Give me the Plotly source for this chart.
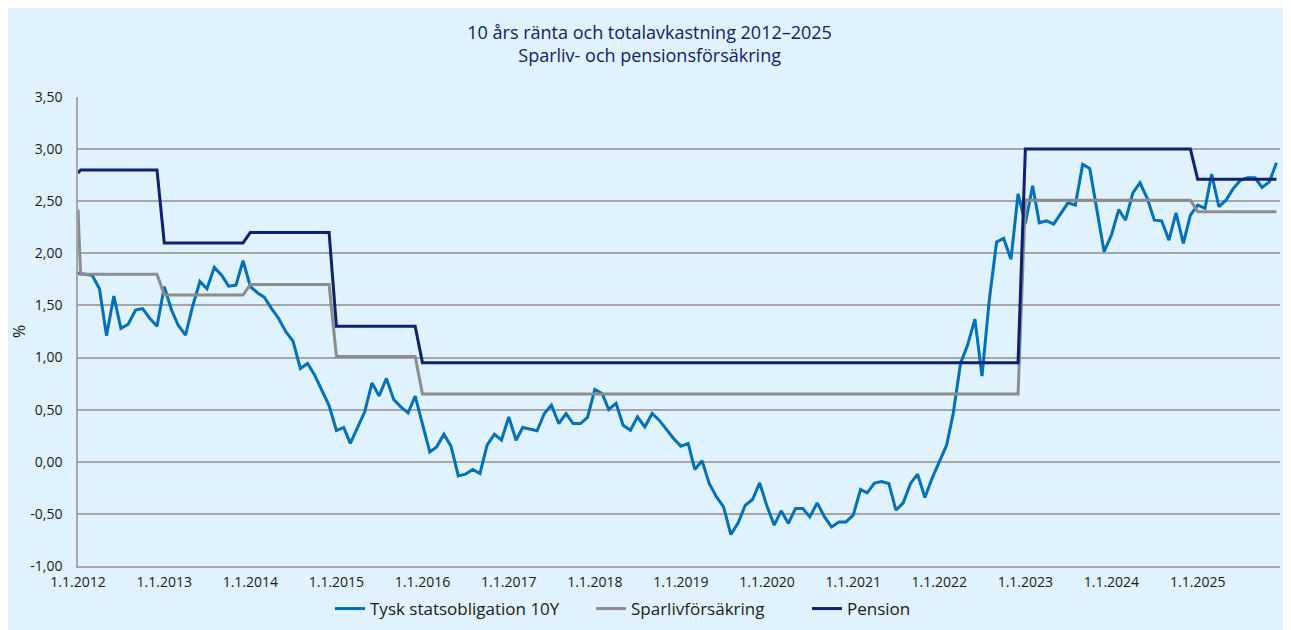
import pandas as pd
import plotly.graph_objects as go

# ---------------- data ----------------
bund_start = "2012-01-01"
bund_10y = [
    1.81, 1.80, 1.79, 1.66, 1.21, 1.59, 1.28, 1.32, 1.455, 1.47, 1.375, 1.30,
    1.68, 1.455, 1.31, 1.215, 1.49, 1.73, 1.66, 1.865, 1.79, 1.685, 1.695, 1.93,
    1.68, 1.62, 1.58, 1.47, 1.375, 1.245, 1.157, 0.895, 0.943, 0.83, 0.687, 0.54,
    0.30, 0.33, 0.176, 0.335, 0.479, 0.757, 0.632, 0.80, 0.598, 0.527, 0.47, 0.63,
    0.351, 0.095, 0.143, 0.265, 0.15, -0.135, -0.119, -0.074, -0.112, 0.159, 0.265, 0.207,
    0.431, 0.207, 0.329, 0.31, 0.297, 0.463, 0.543, 0.367, 0.463, 0.367, 0.367, 0.425,
    0.694, 0.655, 0.502, 0.56, 0.351, 0.303, 0.431, 0.335, 0.463, 0.399, 0.31, 0.224,
    0.15, 0.176, -0.074, 0.009, -0.208, -0.337, -0.433, -0.698, -0.586, -0.417, -0.362, -0.202,
    -0.426, -0.608, -0.471, -0.592, -0.448, -0.448, -0.529, -0.394, -0.529, -0.625, -0.577, -0.577,
    -0.512, -0.266, -0.298, -0.205, -0.19, -0.208, -0.465, -0.394, -0.208, -0.119, -0.343, -0.161,
    0.0, 0.159, 0.463, 0.943, 1.119, 1.369, 0.822, 1.551, 2.11, 2.143, 1.942, 2.57,
    2.287, 2.648, 2.293, 2.312, 2.28, 2.383, 2.485, 2.463, 2.853, 2.815, 2.415, 2.015,
    2.175, 2.42, 2.318, 2.581, 2.677, 2.527, 2.318, 2.312, 2.127, 2.389, 2.095, 2.367,
    2.463, 2.431, 2.76, 2.447, 2.51, 2.623, 2.70, 2.725, 2.725, 2.632, 2.686, 2.869,
]

sparliv_dates = [
    "2012-01-01", "2012-01-12", "2012-12-01", "2013-01-01", "2013-12-01", "2014-01-01",
    "2014-12-01", "2015-01-01", "2015-12-01", "2016-01-01", "2022-12-01", "2023-01-01",
    "2024-12-01", "2025-01-01", "2025-12-01",
]
sparliv_vals = [
    2.42, 1.80, 1.80, 1.60, 1.60, 1.70,
    1.70, 1.01, 1.01, 0.65, 0.65, 2.51,
    2.51, 2.40, 2.40,
]

pension_dates = [
    "2012-01-01", "2012-01-12", "2012-12-01", "2013-01-01", "2013-12-01", "2014-01-01",
    "2014-12-01", "2015-01-01", "2015-12-01", "2016-01-01", "2022-12-01", "2023-01-01",
    "2024-12-01", "2025-01-01", "2025-12-01",
]
pension_vals = [
    2.77, 2.80, 2.80, 2.10, 2.10, 2.20,
    2.20, 1.30, 1.30, 0.95, 0.95, 3.00,
    3.00, 2.71, 2.71,
]

series_names = ["Tysk statsobligation 10Y", "Sparlivförsäkring", "Pension"]

y_tickvals = [-1.0, -0.5, 0.0, 0.5, 1.0, 1.5, 2.0, 2.5, 3.0, 3.5]
y_ticktext = ["-1,00", "-0,50", "0,00", "0,50", "1,00", "1,50", "2,00", "2,50", "3,00", "3,50"]
x_tickvals = [f"{y}-01-01" for y in range(2012, 2026)]
x_ticktext = [f"1.1.{y}" for y in range(2012, 2026)]

title_lines = ["10 års ränta och totalavkastning 2012\u20132025", "Sparliv- och pensionsförsäkring"]

# ---------------- figure ----------------
bund_dates = pd.date_range(bund_start, periods=len(bund_10y), freq="MS")

BLUE = "#0071b9"
GREY = "#8c8c8c"
NAVY = "#0c2170"
BG = "#dff2fd"
FONT = "Open Sans"
TXT = "#1a1a1a"

W, H = 1291, 630
ML, MR, MT, MB = 70, 19, 89, 72
pw = W - ML - MR
ph = H - MT - MB

fig = go.Figure()
fig.add_trace(go.Scatter(x=bund_dates, y=bund_10y, mode="lines", name=series_names[0],
                         line=dict(color=BLUE, width=3), legend="legend"))
fig.add_trace(go.Scatter(x=pd.to_datetime(sparliv_dates), y=sparliv_vals, mode="lines",
                         name=series_names[1], line=dict(color=GREY, width=3), legend="legend2"))
fig.add_trace(go.Scatter(x=pd.to_datetime(pension_dates), y=pension_vals, mode="lines",
                         name=series_names[2], line=dict(color=NAVY, width=3), legend="legend3"))

leg_y = -(601 - (H - MB)) / ph


def leg(xpix):
    return dict(orientation="h", x=(xpix - ML) / pw, xanchor="left", y=leg_y, yanchor="middle",
                font=dict(family=FONT, size=17, color=TXT), bgcolor="rgba(0,0,0,0)",
                itemwidth=30)


fig.update_layout(
    width=W, height=H,
    margin=dict(l=ML, r=MR, t=MT, b=MB, pad=0, autoexpand=False),
    paper_bgcolor=BG, plot_bgcolor=BG,
    font=dict(family=FONT, size=14, color=TXT),
    title=dict(text="<br>".join(title_lines), x=0.497, xanchor="center",
               y=1 - 31 / H, yanchor="middle",
               font=dict(family=FONT, size=18, color=NAVY)),
    showlegend=True,
    legend=leg(322),
    legend2=leg(583),
    legend3=leg(799),
    xaxis=dict(type="date", range=["2012-01-01", "2025-12-16"], automargin=False,
               tickmode="array", tickvals=x_tickvals, ticktext=x_ticktext,
               showgrid=False, showline=True, linecolor="#a6a6a6", linewidth=1.5,
               ticks="", ticklabelstandoff=2,
               tickfont=dict(family=FONT, size=14, color=TXT),
               zeroline=False),
    yaxis=dict(range=[-1.0, 3.5], automargin=False,
               tickmode="array", tickvals=y_tickvals, ticktext=y_ticktext,
               showgrid=True, gridcolor="#a6a6a6", gridwidth=1.5,
               showline=True, linecolor="#a6a6a6", linewidth=1.5,
               ticks="", ticklabelstandoff=11,
               tickfont=dict(family=FONT, size=14, color=TXT),
               zeroline=False,
               title=dict(text="%", standoff=14, font=dict(family=FONT, size=16, color=TXT))),
)

fig.write_html("out.html")
